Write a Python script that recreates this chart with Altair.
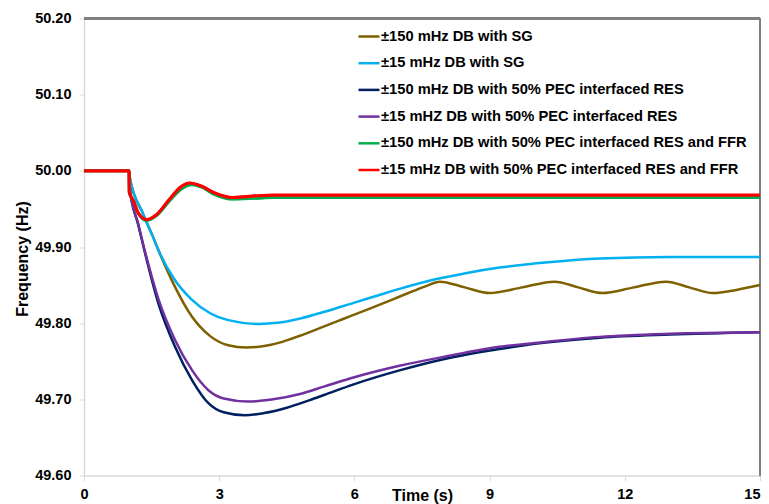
import altair as alt
import pandas as pd

labels = [
    "±150 mHz DB with SG",
    "±15 mHz DB with SG",
    "±150 mHz DB with 50% PEC interfaced RES",
    "±15 mHZ DB with 50% PEC interfaced RES",
    "±150 mHz DB with 50% PEC interfaced RES and FFR",
    "±15 mHz DB with 50% PEC interfaced RES and FFR",
]
colors = ["#7F6000", "#00B0F0", "#002060", "#7030A0", "#00B050", "#FF0000"]

t_sg150 = [0, 1.0, 1.02, 1.3, 1.54, 1.65, 2.0, 2.39, 2.8, 3.2, 3.6, 4.0, 4.4, 4.79, 5.23, 5.75, 6.27, 6.8, 7.3, 7.6, 7.89,
           8.45, 9.0, 9.72, 10.44, 10.97, 11.5, 12.2, 12.92, 13.43, 13.95, 14.5, 15.0]
f_sg150 = [50.0, 50.0, 49.990, 49.945, 49.912, 49.896, 49.850, 49.809, 49.783, 49.771, 49.768, 49.770, 49.7755, 49.7835, 49.7935, 49.8055, 49.8175, 49.830, 49.842, 49.849, 49.8545,
           49.847, 49.8395, 49.847, 49.8545, 49.847, 49.8395, 49.847, 49.8545, 49.847, 49.8395, 49.844, 49.850]

t_sg15 = [0, 1.0, 1.02, 1.3, 1.54, 1.65, 2.0, 2.39, 2.8, 3.2, 3.87, 4.3, 4.79, 5.34, 6.0, 6.5, 7.0, 7.75, 8.5, 9.22, 10.3, 11.44, 13.0, 15.0]
f_sg15 = [50.0, 50.0, 49.990, 49.945, 49.912, 49.896, 49.858, 49.831, 49.813, 49.804, 49.799, 49.8004, 49.806, 49.815, 49.827, 49.836, 49.845, 49.857, 49.866, 49.873, 49.880, 49.885, 49.887, 49.887]

t_res150 = [0, 1.0, 1.02, 1.2, 1.35, 1.65, 2.02, 2.4, 2.76, 3.1, 3.57, 4.0, 4.5, 5.01, 5.34, 6.0, 7.0, 8.0, 9.22, 10.0, 11.44, 13.0, 15.0]
f_res150 = [50.0, 50.0, 49.975, 49.930, 49.893, 49.826, 49.769, 49.725, 49.695, 49.683, 49.679, 49.682, 49.689, 49.699, 49.706, 49.720, 49.738, 49.753, 49.766, 49.773, 49.781, 49.785, 49.788]

t_res15 = [0, 1.0, 1.02, 1.2, 1.35, 1.65, 2.02, 2.4, 2.76, 3.1, 3.64, 4.2, 4.79, 5.34, 6.0, 7.0, 8.0, 9.22, 10.0, 11.44, 13.0, 15.0]
f_res15 = [50.0, 50.0, 49.975, 49.931, 49.895, 49.832, 49.778, 49.738, 49.712, 49.701, 49.697, 49.700, 49.707, 49.717, 49.729, 49.744, 49.756, 49.769, 49.774, 49.782, 49.786, 49.788]

t_ffr150 = [0, 1.0, 1.005, 1.1, 1.2, 1.39, 1.6, 1.9, 2.15, 2.4, 2.6, 2.9, 3.3, 3.8, 4.2, 15.0]
f_ffr150 = [50.0, 50.0, 49.972, 49.960, 49.945, 49.935, 49.941, 49.961, 49.976, 49.982, 49.979, 49.969, 49.963, 49.964, 49.965, 49.965]

t_ffr15 = [0, 1.0, 1.005, 1.1, 1.2, 1.39, 1.6, 1.9, 2.15, 2.35, 2.6, 2.9, 3.3, 3.8, 4.2, 15.0]
f_ffr15 = [50.0, 50.0, 49.972, 49.960, 49.945, 49.936, 49.942, 49.963, 49.979, 49.984, 49.980, 49.971, 49.965, 49.967, 49.968, 49.968]

series = [
    (labels[0], t_sg150, f_sg150),
    (labels[1], t_sg15, f_sg15),
    (labels[2], t_res150, f_res150),
    (labels[3], t_res15, f_res15),
    (labels[4], t_ffr150, f_ffr150),
    (labels[5], t_ffr15, f_ffr15),
]
rows = []
for name, ts, fs in series:
    for t, f in zip(ts, fs):
        rows.append({"series": name, "t": t, "f": f})
df = pd.DataFrame(rows)

W, H = 676, 457
FONT = "Liberation Sans"

x_enc = alt.X("t:Q", scale=alt.Scale(domain=[0, 15], nice=False),
              axis=alt.Axis(values=[0, 3, 6, 9, 12, 15], title="Time (s)", labelFlush=False,
                            labelAlign=alt.ExprRef(expr="datum.value == 15 ? 'right' : 'center'"),
                            titleX=338, titleY=20, titleBaseline="middle",
                            titleAlign="center"))
y_enc = alt.Y("f:Q", scale=alt.Scale(domain=[49.6, 50.2], nice=False, zero=False),
              axis=alt.Axis(values=[49.6, 49.7, 49.8, 49.9, 50.0, 50.1, 50.2],
                            format=".2f", title="Frequency (Hz)", labelPadding=8,
                            titleX=-62, titleY=240, titleBaseline="middle",
                            titleAlign="center", titleAngle=-90))
color_enc = alt.Color("series:N", scale=alt.Scale(domain=labels, range=colors),
                      sort=labels,
                      legend=alt.Legend(title=None, orient="none", legendX=273, legendY=6,
                                        symbolType="stroke", symbolSize=441,
                                        symbolStrokeWidth=2.5, labelOffset=0,
                                        rowPadding=7.7, labelFont=FONT,
                                        labelFontSize=14.7, labelFontWeight="bold",
                                        labelColor="#000000", labelLimit=500))

base = alt.Chart(df).mark_line(interpolate="monotone", strokeWidth=2.5).encode(
    x=x_enc, y=y_enc, color=color_enc
)
ffr = alt.Chart(df).transform_filter(
    alt.FieldOneOfPredicate(field="series", oneOf=[labels[4], labels[5]])
).mark_line(interpolate="monotone", strokeWidth=3.2).encode(
    x=x_enc, y=y_enc, color=color_enc
)

top_rule = alt.Chart(df).mark_rule(color="#7F7F7F", strokeWidth=1.5).encode(
    x=alt.value(0), x2=alt.value(W), y=alt.value(0))
right_rule = alt.Chart(df).mark_rule(color="#7F7F7F", strokeWidth=1.5).encode(
    x=alt.value(W), y=alt.value(0), y2=alt.value(H))

chart = alt.layer(top_rule, right_rule, base, ffr).properties(
    width=W, height=H,
    autosize=alt.AutoSizeParams(type="none"),
    padding={"left": 76, "top": 10.5, "right": 1, "bottom": 28},
).configure_view(stroke=None).configure_axis(
    grid=False, domainColor="#D9D9D9", domainWidth=1.5, tickColor="#D9D9D9",
    tickSize=5, labelFont=FONT, labelFontSize=14.5, labelFontWeight="bold",
    labelColor="#000000", titleFont=FONT, titleFontSize=16, titleFontWeight="bold",
    titleColor="#000000", labelPadding=7
)

chart.save("out.html", embed_options={"renderer": "svg", "actions": False})
